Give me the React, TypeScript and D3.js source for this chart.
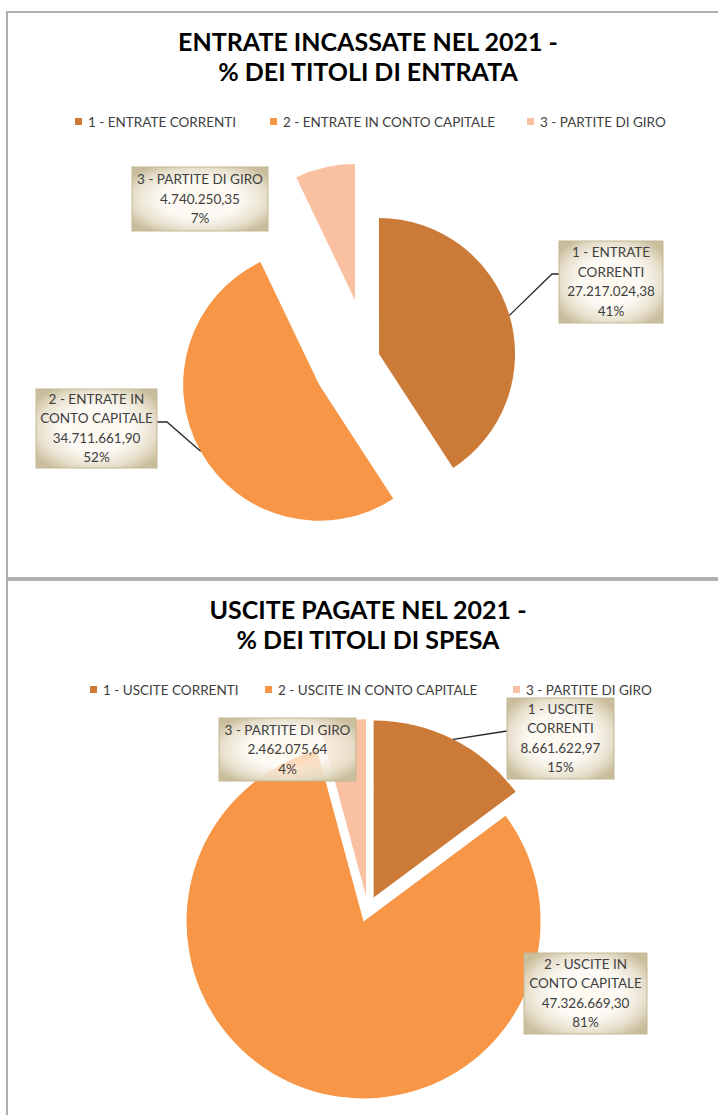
import React, { useEffect, useRef } from "react";
import * as d3 from "d3";

// ---------- DATA ----------
const categories1 = ["1 - ENTRATE CORRENTI", "2 - ENTRATE IN CONTO CAPITALE", "3 - PARTITE DI GIRO"];
const values1 = [27217024.38, 34711661.9, 4740250.35];
const labelLines1 = [["1 - ENTRATE", "CORRENTI"], ["2 - ENTRATE IN", "CONTO CAPITALE"], ["3 - PARTITE DI GIRO"]];
const title1 = ["ENTRATE INCASSATE NEL 2021 -", "% DEI TITOLI DI ENTRATA"];

const categories2 = ["1 - USCITE CORRENTI", "2 - USCITE IN CONTO CAPITALE", "3 - PARTITE DI GIRO"];
const values2 = [8661622.97, 47326669.3, 2462075.64];
const labelLines2 = [["1 - USCITE", "CORRENTI"], ["2 - USCITE IN", "CONTO CAPITALE"], ["3 - PARTITE DI GIRO"]];
const title2 = ["USCITE PAGATE NEL 2021 -", "% DEI TITOLI DI SPESA"];

// ---------- STYLE / LAYOUT ----------
const COLORS = ["#CB7A38", "#F79646", "#F9C0A2"];
const FONT = "Lato, 'Open Sans', sans-serif";
const TEXT_SIZE = 13.5;
const TITLE_SIZE = 25;

const W = 718;
const H = 1115;

type LabelLayout = { x: number; y: number; w: number; h: number; leader: null | { side: "left" | "right"; dy: number; elbow: number } };

const layout1 = {
  frame: { x: 7, y: 12, w: 722, h: 566 },
  titleX: 368,
  titleY: [51, 81],
  legendY: 122,
  legendX: [75, 270, 527],
  cx: 368,
  cy: 357.3,
  r: 136,
  explode: [11.5, 56, 58.7],
  labels: [
    { x: 559, y: 241, w: 104, h: 82, leader: { side: "left", dy: 33, elbow: 7 } },
    { x: 36, y: 389, w: 121, h: 79, leader: { side: "right", dy: 33, elbow: 10 } },
    { x: 132, y: 167, w: 136, h: 64, leader: null },
  ] as LabelLayout[],
};

const layout2 = {
  frame: { x: 7, y: 580, w: 722, h: 560 },
  titleX: 368,
  titleY: [619, 649],
  legendY: 690,
  legendX: [90, 265, 513],
  cx: 367.8,
  cy: 909.1,
  r: 177,
  explode: [13, 13, 13],
  labels: [
    { x: 507, y: 698, w: 107, h: 81, leader: { side: "left", dy: 33, elbow: 0 } },
    { x: 524, y: 953, w: 123, h: 81, leader: null },
    { x: 219, y: 718, w: 137, h: 63, leader: null },
  ] as LabelLayout[],
};

const itLocale = d3.formatLocale({ decimal: ",", thousands: ".", grouping: [3], currency: ["€", ""] });
const fmtVal = itLocale.format(",.2f");
const fmtPct = d3.format(".0%");

function drawChart(
  svg: d3.Selection<SVGSVGElement, unknown, null, undefined>,
  cfg: typeof layout1,
  categories: string[],
  values: number[],
  labelLines: string[][],
  title: string[]
) {
  const g = svg.append("g");
  const f = cfg.frame;
  g.append("rect")
    .attr("x", f.x)
    .attr("y", f.y)
    .attr("width", f.w)
    .attr("height", f.h)
    .attr("fill", "#ffffff")
    .attr("stroke", "#B0B0B0")
    .attr("stroke-width", 2);

  title.forEach((t, i) => {
    g.append("text")
      .attr("x", cfg.titleX)
      .attr("y", cfg.titleY[i])
      .attr("text-anchor", "middle")
      .attr("font-family", FONT)
      .attr("font-weight", 700)
      .attr("font-size", TITLE_SIZE)
      .attr("fill", "#000")
      .text(t);
  });

  categories.forEach((c, i) => {
    g.append("rect")
      .attr("x", cfg.legendX[i])
      .attr("y", cfg.legendY - 4)
      .attr("width", 7)
      .attr("height", 7)
      .attr("fill", COLORS[i]);
    g.append("text")
      .attr("x", cfg.legendX[i] + 13)
      .attr("y", cfg.legendY)
      .attr("dy", "0.35em")
      .attr("font-family", FONT)
      .attr("font-size", TEXT_SIZE)
      .attr("fill", "#404040")
      .text(c);
  });

  const total = d3.sum(values);
  const pie = d3.pie<number>().sort(null).value((d) => d);
  const arcs = pie(values);
  const arc = d3.arc<d3.PieArcDatum<number>>().innerRadius(0).outerRadius(cfg.r);

  const centers = arcs.map((a, i) => {
    const mid = (a.startAngle + a.endAngle) / 2;
    return {
      x: cfg.cx + Math.sin(mid) * cfg.explode[i],
      y: cfg.cy - Math.cos(mid) * cfg.explode[i],
      mid,
    };
  });

  arcs.forEach((a, i) => {
    g.append("path")
      .attr("transform", `translate(${centers[i].x},${centers[i].y})`)
      .attr("d", arc(a) as string)
      .attr("fill", COLORS[i]);
  });

  // leader lines
  cfg.labels.forEach((lb, i) => {
    if (!lb.leader) return;
    const c = centers[i];
    const px = c.x + Math.sin(c.mid) * cfg.r;
    const py = c.y - Math.cos(c.mid) * cfg.r;
    const ay = lb.y + lb.leader.dy;
    const ax = lb.leader.side === "left" ? lb.x : lb.x + lb.w;
    const ex = lb.leader.side === "left" ? ax - lb.leader.elbow : ax + lb.leader.elbow;
    g.append("path")
      .attr("d", `M${px},${py}L${ex},${ay}L${ax},${ay}`)
      .attr("fill", "none")
      .attr("stroke", "#262626")
      .attr("stroke-width", 1.3);
  });

  // labels
  cfg.labels.forEach((lb, i) => {
    g.append("rect")
      .attr("x", lb.x)
      .attr("y", lb.y)
      .attr("width", lb.w)
      .attr("height", lb.h)
      .attr("fill", "url(#lblGrad)")
      .attr("stroke", "#C4B794")
      .attr("stroke-width", 1);
    const lines = [...labelLines[i], fmtVal(values[i]), fmtPct(values[i] / total)];
    const lh = 19.5;
    const cy = lb.y + lb.h / 2;
    lines.forEach((t, j) => {
      g.append("text")
        .attr("x", lb.x + lb.w / 2)
        .attr("y", cy + (j - (lines.length - 1) / 2) * lh)
        .attr("dy", "0.35em")
        .attr("text-anchor", "middle")
        .attr("font-family", FONT)
        .attr("font-size", TEXT_SIZE)
        .attr("fill", "#404040")
        .text(t);
    });
  });
}

export default function App() {
  const ref = useRef<SVGSVGElement | null>(null);
  useEffect(() => {
    if (!ref.current) return;
    const svg = d3.select(ref.current);
    svg.selectAll("*").remove();
    const defs = svg.append("defs");
    const grad = defs
      .append("radialGradient")
      .attr("id", "lblGrad")
      .attr("cx", "50%")
      .attr("cy", "50%")
      .attr("r", "62%");
    grad.append("stop").attr("offset", "0%").attr("stop-color", "#FFF4E2").attr("stop-opacity", 0.55);
    grad.append("stop").attr("offset", "45%").attr("stop-color", "#FCF9F2").attr("stop-opacity", 0.75);
    grad.append("stop").attr("offset", "78%").attr("stop-color", "#E6DECA").attr("stop-opacity", 0.95);
    grad.append("stop").attr("offset", "100%").attr("stop-color", "#C9BD9B").attr("stop-opacity", 1);

    svg.append("rect").attr("width", W).attr("height", H).attr("fill", "#fff");
    drawChart(svg, layout1, categories1, values1, labelLines1, title1);
    drawChart(svg, layout2, categories2, values2, labelLines2, title2);
  }, []);
  return (
    <div style={{ position: "absolute", left: 0, top: 0 }}>
      <svg ref={ref} width={W} height={H} style={{ display: "block" }} />
    </div>
  );
}
